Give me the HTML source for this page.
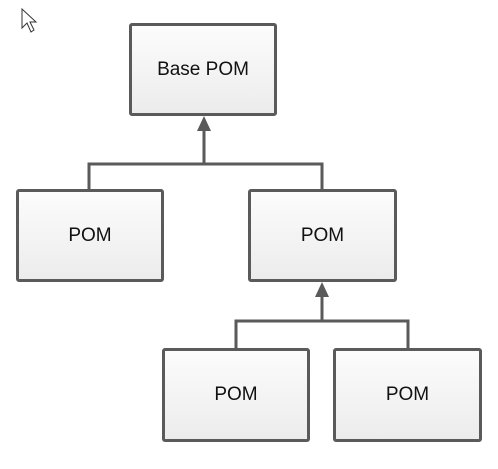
<!DOCTYPE html>
<html><head><style>
body{margin:0;width:498px;height:469px;background:#fff;position:relative;overflow:hidden;font-family:"Liberation Sans",Arial,sans-serif}
.b{position:absolute;box-sizing:border-box;border:3px solid #5a5a5a;border-radius:3px;background:linear-gradient(#fcfcfc,#ececec);display:flex;align-items:center;justify-content:center;font-size:19px;color:#111}
</style></head><body>
<svg width="498" height="469" style="position:absolute;left:0;top:0">
<g stroke="#5a5a5a" stroke-width="3" fill="none">
<path d="M204 164V128M89 190V164H322V190"/>
<path d="M322 321V294M236 349V321H408V349"/>
</g>
<polygon points="204,116 197,131 211,131" fill="#5a5a5a"/>
<polygon points="322,282 315,297 329,297" fill="#5a5a5a"/>
<path d="M22 9V28L27 23L31 32L34 30L30 22H36Z" fill="#fff" stroke="#333" stroke-width="1"/>
</svg>
<div class="b" style="left:129px;top:23px;width:148px;height:93px">Base POM</div>
<div class="b" style="left:16px;top:189px;width:148px;height:93px">POM</div>
<div class="b" style="left:248px;top:189px;width:149px;height:93px">POM</div>
<div class="b" style="left:162px;top:348px;width:148px;height:94px">POM</div>
<div class="b" style="left:333px;top:348px;width:149px;height:94px">POM</div>
</body></html>
